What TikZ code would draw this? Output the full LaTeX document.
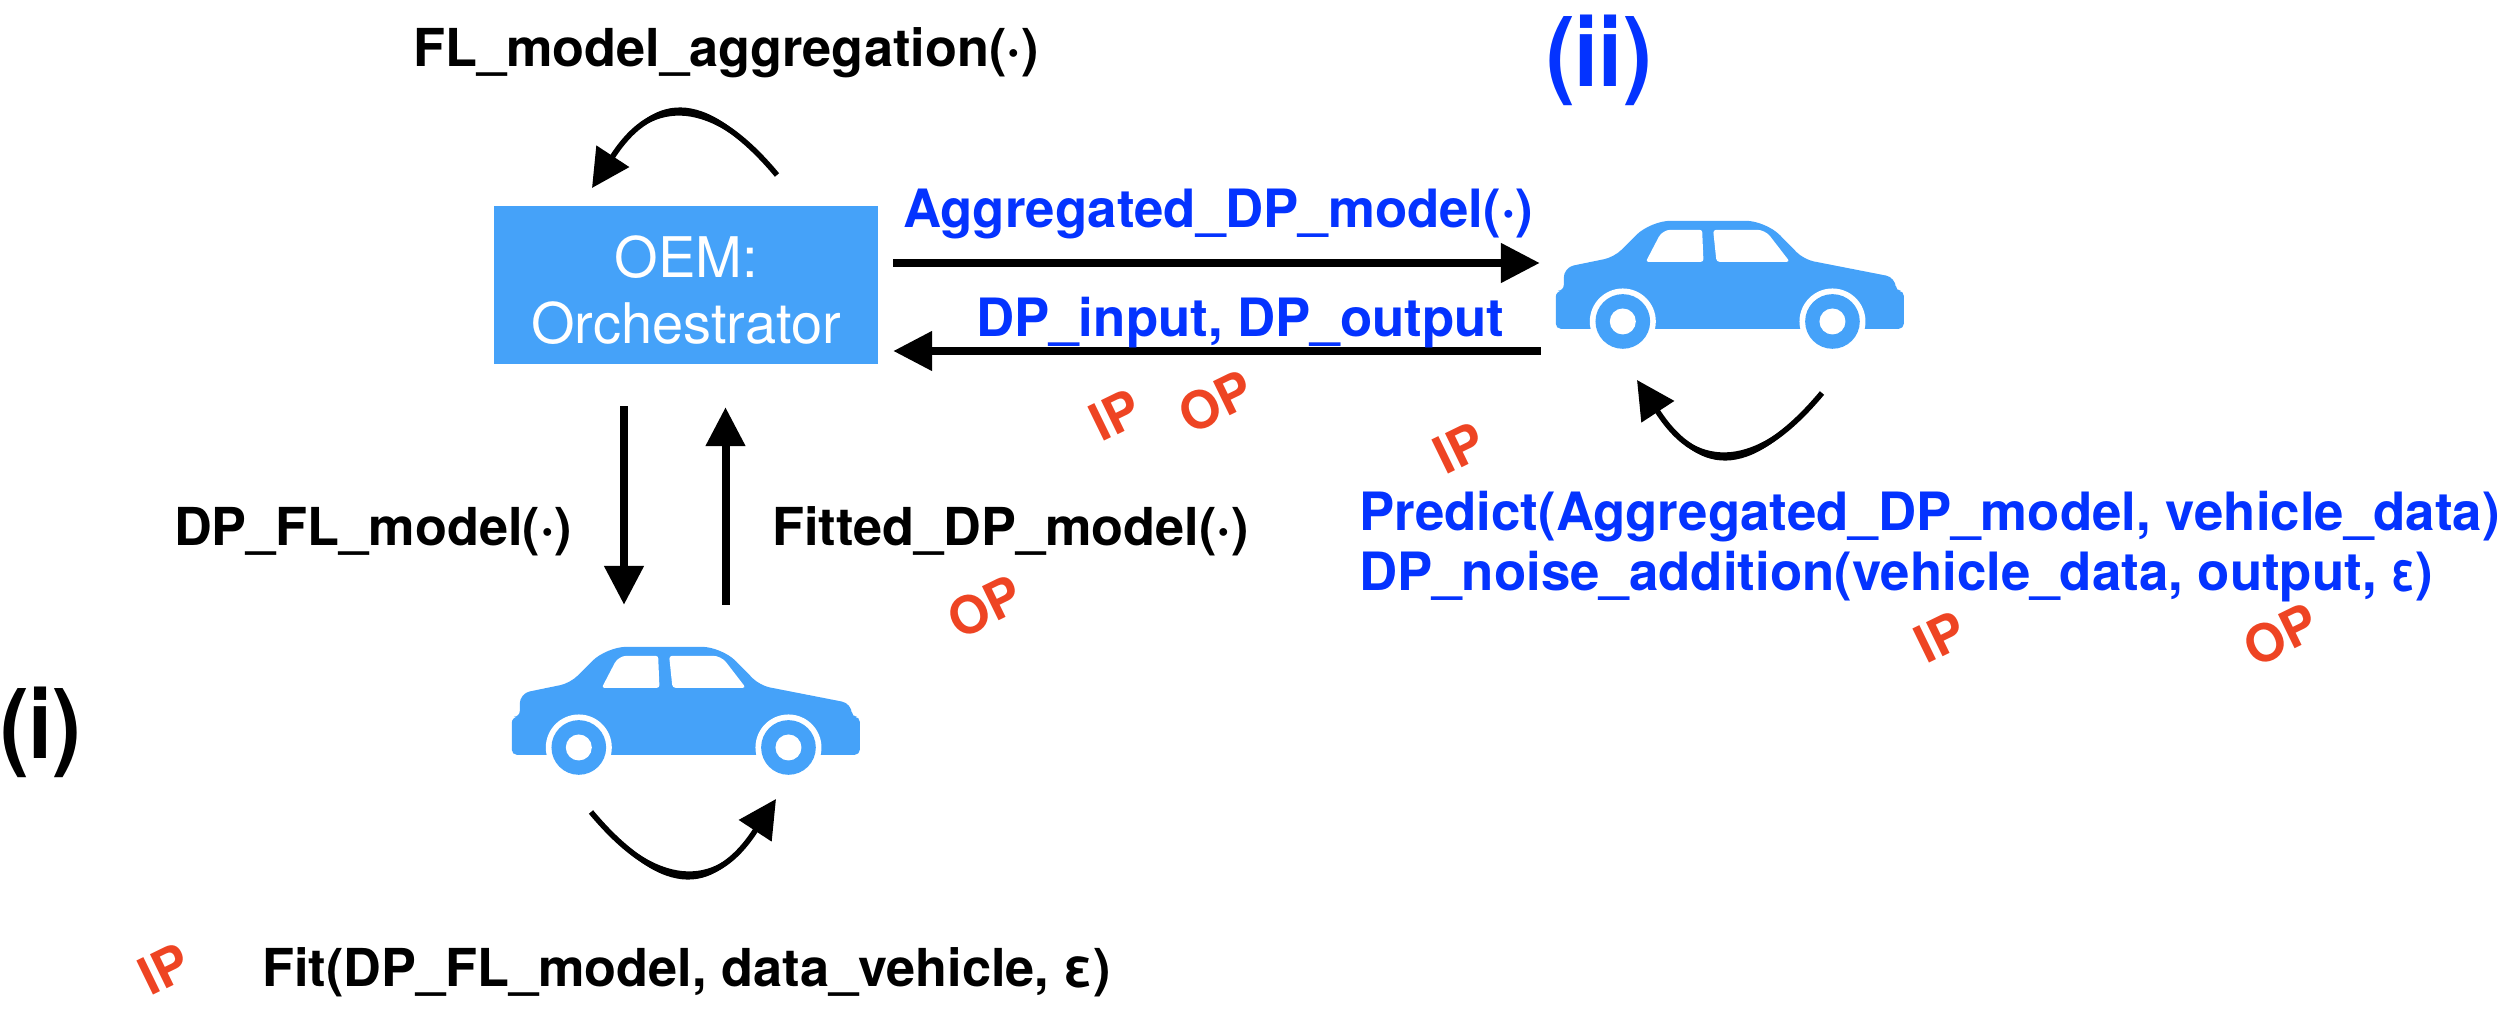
\documentclass[tikz,border=0pt]{standalone}
\usepackage{fontspec}
\setmainfont{TeX Gyre Heros}
\usetikzlibrary{arrows.meta}
\definecolor{carblue}{HTML}{45A2F9}
\definecolor{txtblue}{HTML}{0433FF}
\definecolor{redlab}{HTML}{EE4423}
\newcommand{\carshape}{%
  \fill[carblue] (168,400) [rounded corners=6pt] -- (168,333) -- (192,333) [rounded corners=10pt] -- (192,263) -- (343,232) [rounded corners=20pt] -- (452,123) -- (798,123) [rounded corners=10pt] -- (912,239) -- (1188,293) [rounded corners=5pt] -- (1188,333) -- (1212,333) -- (1212,447) -- (168,447) [sharp corners] -- cycle;
  \fill[white,rounded corners=2.5pt] (438,246) [rounded corners=8pt] -- (488,150) [rounded corners=2.5pt] -- (607,150) -- (611,246) -- cycle;
  \fill[white,rounded corners=3pt] (640,150) [rounded corners=8pt] -- (796,150) [rounded corners=3pt] -- (870,246) -- (650,246) -- cycle;
  \foreach \wx in {369,998}{
    \fill[white] (\wx,425) circle[radius=99];
    \fill[carblue] (\wx,425) circle[radius=82];
    \fill[white] (\wx,425) circle[radius=39];
  }
}
\tikzset{
  x=1pt,y=-1pt,
  bigarrow/.style={line width=8pt,-{Triangle[length=39pt,width=38pt]}},
  looparrow/.style={line width=5.5pt,-{Triangle[length=38pt,width=38pt]}},
  lab/.style={anchor=base west,inner sep=0pt},
  blab/.style={lab,text=txtblue,font=\fontsize{52.8}{60}\bfseries\selectfont},
  klab/.style={lab,text=black,font=\fontsize{52.3}{60}\bfseries\selectfont},
  redmark/.style={inner sep=0pt,rotate=26,text=redlab,font=\fontsize{52}{60}\bfseries\selectfont},
  carbox/.style={minimum width=348pt,minimum height=128pt,inner sep=0pt},
  bignum/.style={anchor=base west,inner sep=0pt,transform shape,xscale=.9,font=\fontsize{96}{100}\bfseries\selectfont},
}
\begin{document}
\begin{tikzpicture}
\useasboundingbox (0,0) rectangle (2516,1014);
\node[fill=carblue,minimum width=384pt,minimum height=158pt,inner sep=0pt] (oem) at (686,285) {};
\node[inner sep=0pt,text=white,align=center,font=\fontsize{56}{66}\selectfont] (oemtext) at (686,290) {OEM:\\Orchestrator};
\node[carbox] (car2) at (1730,285) {};
\node[carbox] (car1) at (686,711) {};
\begin{scope}[shift={(car2.north west)},scale=1/3,shift={(-168,-123)}]\carshape\end{scope}
\begin{scope}[shift={(car1.north west)},scale=1/3,shift={(-168,-123)}]\carshape\end{scope}
% straight connectors
\draw[bigarrow] ([xshift=15pt,yshift=22pt]oem.east) -- ([xshift=-16pt,yshift=22pt]car2.west);
\draw[bigarrow] ([xshift=-15pt,yshift=-66pt]car2.west) -- ([xshift=15pt,yshift=-66pt]oem.east);
\draw[bigarrow] ([xshift=-62pt,yshift=-42pt]oem.south) -- ([xshift=-62pt,yshift=42pt]car1.north);
\draw[bigarrow] ([xshift=39.5pt,yshift=42pt]car1.north) -- ([xshift=39.5pt,yshift=-43pt]oem.south);
% curved self loops
\coordinate (ls) at (777,175); \coordinate (lb) at (613,156); \coordinate (le) at (592,188);
\coordinate (bs) at (1822,393); \coordinate (bb) at (1658,412); \coordinate (be) at (1637,380);
\coordinate (cs) at (591,812); \coordinate (cb) at (755,831); \coordinate (ce) at (776,799);
\fill (ls) .. controls (711,90.5) and (655,86.5) .. (lb) .. controls (655,97.5) and (711,101.5) .. (ls);
\draw[looparrow] (ls) .. controls (711,96) and (655,92) .. (lb) -- (le);
\fill (bs) .. controls (1756,477.5) and (1700,481.5) .. (bb) .. controls (1700,470.5) and (1756,466.5) .. (bs);
\draw[looparrow] (bs) .. controls (1756,472) and (1700,476) .. (bb) -- (be);
\fill (cs) .. controls (657,896.5) and (713,900.5) .. (cb) .. controls (713,889.5) and (657,885.5) .. (cs);
\draw[looparrow] (cs) .. controls (657,891) and (713,895) .. (cb) -- (ce);
% labels
\node[klab] (t1) at (413,67) {FL\_model\_aggregation(·)};
\node[blab] (t2) at (903,227) {Aggregated\_DP\_model(·)};
\node[blab] (t3) at (976,336) {DP\_input, DP\_output};
\node[klab] (t4) at (174,545) {DP\_FL\_model(·)};
\node[klab] (t5) at (772,545) {Fitted\_DP\_model(·)};
\node[klab] (t6) at (262,986) {Fit(DP\_FL\_model, data\_vehicle, ε)};
\node[blab] (t7) at (1359,530) {Predict(Aggregated\_DP\_model, vehicle\_data)};
\node[blab] (t8) at (1359,590) {DP\_noise\_addition(vehicle\_data, output, \scalebox{.8}[1]{ε})};
\node[bignum,text=txtblue] (n2) at (1546,87) {(ii)};
\node[bignum,text=black] (n1) at (0,758) {(i)};
\node[redmark] (r1) at (1115,415) {IP};
\node[redmark] (r2) at (1216,402) {OP};
\node[redmark] (r3) at (1459,448) {IP};
\node[redmark] (r4) at (985,607) {OP};
\node[redmark] (r5) at (164,969) {IP};
\node[redmark] (r6) at (1940,637) {IP};
\node[redmark] (r7) at (2281,635) {OP};
\end{tikzpicture}
\end{document}
